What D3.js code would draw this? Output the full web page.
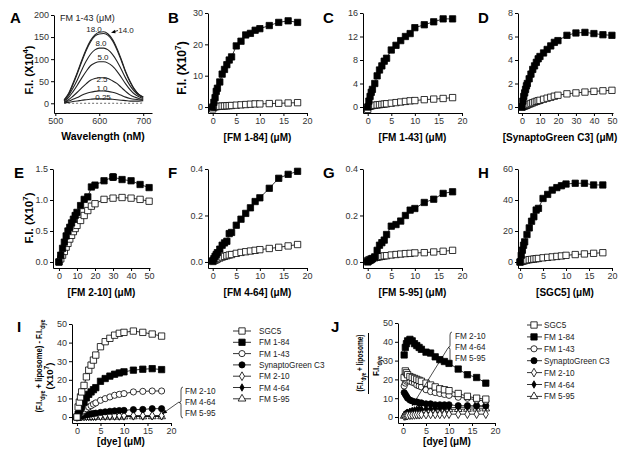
<!DOCTYPE html>
<html><head><meta charset="utf-8">
<script src="https://cdn.jsdelivr.net/npm/d3@7"></script>
<style>
body{margin:0;background:#fff}
svg{display:block}
text{font-family:Arial,"Liberation Sans",Helvetica,sans-serif}
</style>
</head><body>
<svg id="c" width="624" height="453"></svg>
<script>
// ---------------- DATA ----------------
// Panel A: FM 1-43 emission spectra
const wavelengths = [520,530,540,550,560,570,580,590,600,610,620,630,640,650,660,670,680,690,700];
const specLabels = ["18.0","14.0","8.0","5.0","2.5","1.0","0.25"];
const spec18  = [8,22,45,70,97,122,142,155,161,162,157,145,125,100,72,50,32,20,14];
const spec14  = [7,20,42,67,94,119,139,152,157,158,154,142,122,97,70,48,31,20,14];
const spec8   = [6,17,34,53,75,95,111,121,125,125,121,111,96,77,57,40,27,18,13];
const spec5   = [5,13,26,41,57,72,85,91,94,94,91,84,73,59,44,31,21,15,11];
const spec2_5 = [3,8,16,25,35,44,52,56,58,58,56,51,45,36,27,19,14,11,9];
const spec1   = [2,5,9,13,18,22,25,27,28,28,27,25,22,18,14,11,9,8,8];
const spec025 = [1,2,4,5,7,8,9,10,10,10,10,9,8,7,6,5,5,5,6];
const specBlank = [0,0,0,0,0,0,0,0,0,0,0,0,0,0,0,0,0,0,1];

// Dye concentrations (uM) for B, C, F, G, H, I
const conc = [0,0.25,0.5,0.75,1,1.5,2,2.5,3,3.5,4,5,6,7,8,9,10,12,14,16,18];
// B: FM 1-84
const bLipo = [0,1.5,3,5,6,8,10.5,12,13.5,15,16,19.5,21,23,23.5,24.5,25,26,27,27.5,27];
const bBuf  = [-0.6,0,0.1,0.15,0.2,0.25,0.3,0.35,0.4,0.45,0.5,0.6,0.7,0.8,0.9,1.0,1.0,1.1,1.2,1.3,1.4];
// C: FM 1-43
const cLipo = [0,1,1.8,2.5,3,4,5.3,6.3,7,7.8,8.3,9.7,10.5,11.3,12,12.5,13.5,14,14.5,15,15];
const cBuf  = [-0.4,0.1,0.15,0.2,0.25,0.3,0.35,0.4,0.45,0.5,0.55,0.65,0.75,0.85,0.95,1.05,1.1,1.25,1.35,1.45,1.6];
// D: SynaptoGreen C3
const concD = [0,0.5,1,1.5,2,2.5,3,4,5,6,7,8,9,10,12,14,16,18,20,25,30,35,40,45,50];
const dLipo = [0,0.5,0.9,1.2,1.5,1.8,2.0,2.4,2.8,3.2,3.5,3.8,4.1,4.3,4.6,4.9,5.2,5.5,5.65,6.1,6.3,6.35,6.25,6.15,6.1];
const dBuf  = [0,0.03,0.06,0.09,0.12,0.15,0.18,0.24,0.3,0.36,0.42,0.48,0.53,0.57,0.66,0.75,0.83,0.92,1.0,1.12,1.2,1.27,1.33,1.38,1.42];
// E: FM 2-10
const concE = [0,1,2,3,4,5,6,7,8,9,10,12,14,16,18,20,25,30,35,40,45,50];
const eLipo = [0,0.11,0.22,0.32,0.42,0.5,0.56,0.63,0.69,0.75,0.8,0.91,1.01,1.05,1.21,1.24,1.31,1.37,1.33,1.31,1.25,1.2];
const eBuf  = [0,0.05,0.11,0.17,0.24,0.3,0.37,0.43,0.49,0.54,0.59,0.67,0.75,0.83,0.9,0.94,1.01,1.03,1.04,1.03,1.01,0.98];
const eErrAt30 = 0.05;
// F: FM 4-64
const fLipo = [0.005,0.014,0.024,0.032,0.04,0.055,0.072,0.082,0.089,0.122,0.127,0.158,0.184,0.209,0.233,0.26,0.276,0.317,0.36,0.377,0.39];
const fBuf  = [0.002,0.005,0.008,0.01,0.013,0.017,0.021,0.024,0.027,0.03,0.032,0.037,0.041,0.044,0.047,0.05,0.053,0.058,0.063,0.069,0.075];
// G: FM 5-95
const gLipo = [0,0.004,0.007,0.01,0.014,0.022,0.05,0.072,0.083,0.094,0.118,0.154,0.161,0.176,0.2,0.223,0.23,0.256,0.27,0.295,0.302];
const gBuf  = [0.006,0.009,0.011,0.013,0.015,0.018,0.02,0.022,0.024,0.026,0.027,0.03,0.032,0.034,0.036,0.037,0.039,0.04,0.043,0.046,0.05];
// H: SGC5
const hLipo = [0,4.3,7.6,10.8,13,17.7,22,26.3,29.2,33.5,34.6,41,43.6,46.4,48,49.2,50.3,50.8,50.8,49.7,49.7];
const hBuf  = [0,0.3,0.5,0.7,0.9,1.2,1.5,1.7,1.9,2.1,2.3,2.7,3.0,3.3,3.6,3.9,4.3,4.8,5.2,5.6,6.0];

// I: (F.I.dye+liposome) - F.I.dye  (x10^7)
const dyeNames = ["SGC5","FM 1-84","FM 1-43","SynaptoGreen C3","FM 2-10","FM 4-64","FM 5-95"];
const iSGC5  = [0,5.4,8,10.8,13.5,17,21.6,25.2,27.9,30.6,33.3,37.8,40.5,42.3,44,45,45.5,46.2,45.5,44.6,43.5];
const iFM184 = [0,1.5,3,4.5,5.7,8,10.3,12.2,13.5,14.7,15.8,19.2,20.7,22,23,23.7,24.3,25.2,25.7,26,25.5];
const iFM143 = [0,0.8,1.4,2,2.5,3.6,4.5,5.4,6.1,6.9,7.6,9,9.9,10.8,11.7,12.2,12.6,13.5,13.8,14,14];
const iSGC3  = [0,0.2,0.3,0.5,0.6,0.9,1.2,1.4,1.7,1.9,2.1,2.5,2.8,3.1,3.3,3.5,3.6,4,4.1,4.5,4.5];
const iFM210 = [0,0.2,0.3,0.3,0.4,0.4,0.5,0.5,0.5,0.6,0.6,0.6,0.7,0.7,0.7,0.7,0.8,0.8,0.8,0.8,0.8];
const iFM464 = [0,0.05,0.1,0.1,0.1,0.15,0.15,0.2,0.2,0.2,0.2,0.25,0.25,0.3,0.3,0.3,0.3,0.35,0.35,0.4,0.4];
const iFM595 = [0,0,0.05,0.05,0.05,0.1,0.1,0.1,0.1,0.15,0.15,0.15,0.15,0.2,0.2,0.2,0.2,0.25,0.25,0.3,0.3];

// J: ratio (F.I.dye+liposome)/F.I.dye
const concJ = [0.25,0.5,0.75,1,1.5,2,2.5,3,3.5,4,5,6,7,8,9,10,12,14,16,18];
const jSGC5  = [21,24.5,23.5,22.5,21.5,21,20.5,20,19.5,19,18,17,16,15,14.5,14,12.5,11,10,9.5];
const jFM184 = [33,37,39,40.5,41.3,40.5,39,38,37,36,34.5,34,32,30.5,29.5,28.5,25.5,22.5,21,18];
const jFM143 = [16.5,18,19,19.5,19,18.5,18,17,16.5,16,14.5,13.5,13,12.5,12,11.5,10.5,10,9,8.5];
const jSGC3  = [13,12,11,10,9,8.5,8,8,7.5,7.5,7,7,6.5,6.5,6.5,6.5,6,6,6,6];
const jFM210 = [0.5,0.6,0.7,0.8,0.9,1,1.1,1.2,1.2,1.3,1.3,1.4,1.4,1.4,1.5,1.5,1.5,1.5,1.5,1.5];
const jFM464 = [1,1.5,2,2.3,2.8,3.2,3.5,3.8,4,4.1,4.3,4.5,4.6,4.7,4.8,4.9,5.1,5.2,5.4,5.5];
const jFM595 = [0.5,1,1.5,1.8,2.2,2.5,2.8,3,3.2,3.3,3.5,3.6,3.7,3.8,3.9,4,4.1,4.2,4.3,4.4];

// ---------------- DRAWING ----------------
const svg = d3.select("#c");

function marker(g, type, px, py) {
  const sym = {
    sq:  [d3.symbolSquare, 40, false],
    sqf: [d3.symbolSquare, 40, true],
    ci:  [d3.symbolCircle, 30, false],
    cif: [d3.symbolCircle, 30, true],
    di:  [d3.symbolDiamond, 22, false],
    dif: [d3.symbolDiamond, 16, true],
    tri: [d3.symbolTriangle, 26, false]
  }[type];
  g.append("path")
    .attr("d", d3.symbol().type(sym[0]).size(sym[1])())
    .attr("transform", `translate(${px},${py})`)
    .attr("fill", sym[2] ? "#000" : "#fff")
    .attr("stroke", "#000").attr("stroke-width", 0.8);
}

function series(g, x, y, xs, ys, type) {
  const pts = xs.map((v, i) => [x(v), y(ys[i])]);
  g.append("path").attr("d", d3.line()(pts))
    .attr("fill", "none").attr("stroke", "#000").attr("stroke-width", 0.8);
  pts.forEach(p => marker(g, type, p[0], p[1]));
}

function axes(x, y, xt, yt, yfmt, xfmt) {
  const gx = svg.append("g").attr("transform", `translate(0,${y.range()[0]})`)
    .call(d3.axisBottom(x).tickValues(xt).tickSizeInner(3).tickSizeOuter(0).tickPadding(2)
      .tickFormat(xfmt || d3.format("d")));
  const gy = svg.append("g").attr("transform", `translate(${x.range()[0]},0)`)
    .call(d3.axisLeft(y).tickValues(yt).tickSizeInner(3).tickSizeOuter(0).tickPadding(2)
      .tickFormat(yfmt || d3.format("d")));
  [gx, gy].forEach(a => {
    a.select(".domain").attr("stroke", "#000").attr("stroke-width", 1);
    a.selectAll(".tick line").attr("stroke", "#000");
    a.selectAll(".tick text").attr("font-size", 9).attr("fill", "#333")
      .attr("font-family", "Arial, 'Liberation Sans', sans-serif");
  });
}

function letter(t, px, py) {
  svg.append("text").attr("x", px).attr("y", py).attr("font-size", 15)
    .attr("font-weight", "bold").text(t);
}

// rich text: parts [[text, kind]] kind: ''|'sub'|'sup'
function rich(sel, parts) {
  let shift = 0;
  parts.forEach(([t, k]) => {
    const ts = sel.append("tspan").text(t);
    const target = k === "sub" ? 0.3 : k === "sup" ? -0.45 : 0;
    const d = target - shift;
    if (d !== 0) ts.attr("dy", (k ? d / 0.7 : d) + "em");
    shift = target;
    if (k) ts.attr("font-size", "0.7em");
  });
}
// title at (px,py), optional rotation; optionally condensed along its run to a target length
function title(px, py, rot, parts, size, squeezeTo) {
  const g = svg.append("g");
  const t = g.append("text").attr("text-anchor", "middle").attr("font-size", size).attr("font-weight", "bold");
  rich(t, parts);
  let s = 1;
  if (squeezeTo) {
    const len = t.node().getComputedTextLength();
    if (len > 0) s = Math.min(1, squeezeTo / len);
  }
  g.attr("transform", `translate(${px},${py}) rotate(${rot}) scale(${s.toFixed(3)},1)`);
  return t;
}
const xTitle = (cx, by, parts, size, sq) => title(cx, by, 0, parts, size, sq);
const yTitle = (bx, cy, parts, size, sq) => title(bx, cy, -90, parts, size, sq);

const mu = "\u03bc";
const fiX = exp => [["F.I. (X10", ""], [exp, "sup"], [")", ""]];
const concTitle = n => [["[" + n + "] (", ""], [mu, ""], ["M)", ""]];

// ===== Panel A =====
{
  const x = d3.scaleLinear().domain([497, 720]).range([54, 152]);
  const y = d3.scaleLinear().domain([-22, 200]).range([113, 15]);
  axes(x, y, [500, 600, 700], [0, 50, 100, 150, 200]);
  const curves = [spec18, spec14, spec8, spec5, spec2_5, spec1, spec025];
  const line = d3.line().curve(d3.curveMonotoneX).x((d, i) => x(wavelengths[i])).y(d => y(d));
  svg.append("path").attr("d", line(specBlank)).attr("fill", "none")
    .attr("stroke", "#444").attr("stroke-width", 0.8).attr("stroke-dasharray", "2,2");
  curves.forEach(c => svg.append("path").attr("d", line(c)).attr("fill", "none")
    .attr("stroke", "#222").attr("stroke-width", 1.1));
  const lab = (t, px, py, anchor) => svg.append("text").attr("x", px).attr("y", py)
    .attr("font-size", 8).attr("fill", "#222").attr("text-anchor", anchor || "middle").text(t);
  lab("FM 1-43 (" + mu + "M)", 60, 21, "start").attr("font-size", 9);
  lab(specLabels[0], 94, 32);
  lab(specLabels[1], 126, 33);
  lab(specLabels[2], 101, 46);
  lab(specLabels[3], 103, 60);
  lab(specLabels[4], 102, 81.5);
  lab(specLabels[5], 102, 91);
  lab(specLabels[6], 103, 100);
  svg.append("line").attr("x1", 118).attr("y1", 30.5).attr("x2", 113).attr("y2", 32)
    .attr("stroke", "#000").attr("stroke-width", 0.8);
  svg.append("path").attr("d", "M111,32.8 L115,29.8 L115.6,33.2 Z").attr("fill", "#000");
  xTitle(103, 140, [["Wavelength (nM)", ""]], 10.5);
  yTitle(33, 70, fiX("4"), 11);
  letter("A", 10, 23);
}

// ===== Rows 1-2 =====
function bindPanel(cfg) {
  const x = d3.scaleLinear().domain(cfg.xd).range(cfg.xr);
  const y = d3.scaleLinear().domain(cfg.yd).range(cfg.yr);
  axes(x, y, cfg.xt, cfg.yt, cfg.yfmt);
  const g = svg.append("g");
  series(g, x, y, cfg.xs, cfg.buf, "sq");
  series(g, x, y, cfg.xs, cfg.lipo, "sqf");
  const cx = cfg.tx !== undefined ? cfg.tx : (cfg.xr[0] + cfg.xr[1]) / 2;
  xTitle(cx, cfg.tb, concTitle(cfg.name), cfg.ts || 10);
  return { x, y, g };
}
const f1 = d3.format(".1f");
bindPanel({ name: "FM 1-84", xd: [-1, 20], xr: [208, 307], yd: [-1.9, 30], yr: [113, 13],
  xt: [0, 5, 10, 15, 20], yt: [0, 10, 20, 30], xs: conc, lipo: bLipo, buf: bBuf, tb: 141 });
bindPanel({ name: "FM 1-43", xd: [-1, 20], xr: [363, 462], yd: [-1.02, 16], yr: [113, 13],
  xt: [0, 5, 10, 15, 20], yt: [0, 4, 8, 12, 16], xs: conc, lipo: cLipo, buf: cBuf, tb: 141 });
bindPanel({ name: "SynaptoGreen C3", xd: [-2.2, 50.6], xr: [518, 613], yd: [-0.51, 8], yr: [113, 13],
  xt: [0, 10, 20, 30, 40, 50], yt: [0, 2, 4, 6, 8], xs: concD, lipo: dLipo, buf: dBuf, tb: 141, ts: 10, tx: 560 });
yTitle(186, 68, fiX("7"), 12);
letter("B", 168, 23); letter("C", 323, 23); letter("D", 478, 23);

const pE = bindPanel({ name: "FM 2-10", xd: [-3.3, 50.5], xr: [53, 150], yd: [-0.097, 1.5], yr: [268, 169],
  xt: [0, 10, 20, 30, 40, 50], yt: [0, 0.5, 1.0, 1.5], yfmt: f1, xs: concE, lipo: eLipo, buf: eBuf, tb: 296 });
{
  const xi = concE.indexOf(30);
  const px = pE.x(30), yv = eLipo[xi];
  pE.g.append("line").attr("x1", px).attr("x2", px).attr("y1", pE.y(yv - eErrAt30)).attr("y2", pE.y(yv + eErrAt30))
    .attr("stroke", "#000").attr("stroke-width", 0.8);
  [yv - eErrAt30, yv + eErrAt30].forEach(v => pE.g.append("line").attr("x1", px - 2).attr("x2", px + 2)
    .attr("y1", pE.y(v)).attr("y2", pE.y(v)).attr("stroke", "#000").attr("stroke-width", 0.8));
  marker(pE.g, "sqf", px, pE.y(yv));
}
bindPanel({ name: "FM 4-64", xd: [-1, 20], xr: [208, 307], yd: [-0.026, 0.4], yr: [268, 169],
  xt: [0, 5, 10, 15, 20], yt: [0, 0.2, 0.4], yfmt: f1, xs: conc, lipo: fLipo, buf: fBuf, tb: 296 });
bindPanel({ name: "FM 5-95", xd: [-1, 20], xr: [363, 462], yd: [-0.026, 0.4], yr: [268, 169],
  xt: [0, 5, 10, 15, 20], yt: [0, 0.2, 0.4], yfmt: f1, xs: conc, lipo: gLipo, buf: gBuf, tb: 296 });
bindPanel({ name: "SGC5", xd: [-0.45, 20], xr: [518, 612], yd: [-3.87, 60], yr: [268, 169],
  xt: [0, 5, 10, 15, 20], yt: [0, 20, 40, 60], xs: conc, lipo: hLipo, buf: hBuf, tb: 296 });
yTitle(33, 218, fiX("7"), 11.5);
letter("E", 14, 178); letter("F", 168, 178); letter("G", 323, 178); letter("H", 478, 178);

// ===== Row 3: I, J =====
const mTypes = ["sq", "sqf", "ci", "cif", "di", "dif", "tri"];
function legend(lx0, lx1, mx, tx, y0, dy) {
  dyeNames.forEach((n, i) => {
    const yy = y0 + i * dy;
    svg.append("line").attr("x1", lx0).attr("x2", lx1).attr("y1", yy).attr("y2", yy)
      .attr("stroke", "#000").attr("stroke-width", 0.8);
    marker(svg, mTypes[i], mx, yy);
    svg.append("text").attr("x", tx).attr("y", yy + 3).attr("font-size", 8.2).attr("fill", "#222").text(n);
  });
}
function annot(tx, ty0, bx, ax0, ay0, ax1, ay1) {
  ["FM 2-10", "FM 4-64", "FM 5-95"].forEach((n, i) => svg.append("text").attr("x", tx).attr("y", ty0 + i * 11)
    .attr("font-size", 8.2).attr("fill", "#222").text(n));
  const top = ty0 - 7, bot = ty0 + 2 * 11 + 2, mid = (top + bot) / 2;
  svg.append("path").attr("d", `M${bx + 2},${top} Q${bx},${top} ${bx},${top + 3} L${bx},${mid - 2} Q${bx},${mid} ${bx - 2},${mid} Q${bx},${mid} ${bx},${mid + 2} L${bx},${bot - 3} Q${bx},${bot} ${bx + 2},${bot}`)
    .attr("fill", "none").attr("stroke", "#000").attr("stroke-width", 0.7);
  svg.append("line").attr("x1", ax0).attr("y1", ay0).attr("x2", ax1).attr("y2", ay1)
    .attr("stroke", "#000").attr("stroke-width", 0.7);
  const ang = Math.atan2(ay1 - ay0, ax1 - ax0);
  const L = 5, W = 2;
  const bxp = ax1 - L * Math.cos(ang), byp = ay1 - L * Math.sin(ang);
  svg.append("path").attr("d", `M${ax1},${ay1} L${bxp - W * Math.sin(ang)},${byp + W * Math.cos(ang)} L${bxp + W * Math.sin(ang)},${byp - W * Math.cos(ang)} Z`)
    .attr("fill", "#000");
}
{
  const x = d3.scaleLinear().domain([-1.06, 20]).range([72, 171]);
  const y = d3.scaleLinear().domain([-3.2, 50]).range([423, 324]);
  axes(x, y, [0, 5, 10, 15, 20], [0, 10, 20, 30, 40, 50]);
  const g = svg.append("g");
  const sets = [iSGC5, iFM184, iFM143, iSGC3, iFM210, iFM464, iFM595];
  [6, 5, 4, 3, 2, 1, 0].forEach(i => series(g, x, y, conc, sets[i], mTypes[i]));
  xTitle(121, 445, concTitle("dye"), 10);
  yTitle(42, 366, [["(F.I.", ""], ["dye", "sub"], [" + liposome) - F.I.", ""], ["dye", "sub"]], 9.5, 93);
  yTitle(53, 376, [["(X10", ""], ["7", "sup"], [")", ""]], 9.5);
  annot(185, 394, 181, 179, 402, 162, 414);
  legend(233, 251, 242, 259, 331, 11.3);
  letter("I", 17, 332);
}
{
  const x = d3.scaleLinear().domain([-1.09, 20]).range([398, 495]);
  const y = d3.scaleLinear().domain([-3.2, 50]).range([423, 323]);
  axes(x, y, [0, 5, 10, 15, 20], [0, 10, 20, 30, 40, 50]);
  const g = svg.append("g");
  const sets = [jSGC5, jFM184, jFM143, jSGC3, jFM210, jFM464, jFM595];
  [6, 5, 4, 3, 2, 1, 0].forEach(i => series(g, x, y, concJ, sets[i], mTypes[i]));
  xTitle(447, 445, concTitle("dye"), 10);
  yTitle(363, 363, [["(F.I.", ""], ["dye", "sub"], [" + liposome)", ""]], 9.5, 57);
  svg.append("line").attr("x1", 368.5).attr("x2", 368.5).attr("y1", 333).attr("y2", 394)
    .attr("stroke", "#000").attr("stroke-width", 1);
  yTitle(379, 366, [["F.I.", ""], ["dye", "sub"]], 9.5, 20);
  annot(455, 339, 450, 448, 348, 412, 406);
  legend(527, 542, 534, 544, 325, 11.9);
  letter("J", 331, 332);
}
</script>
</body></html>
